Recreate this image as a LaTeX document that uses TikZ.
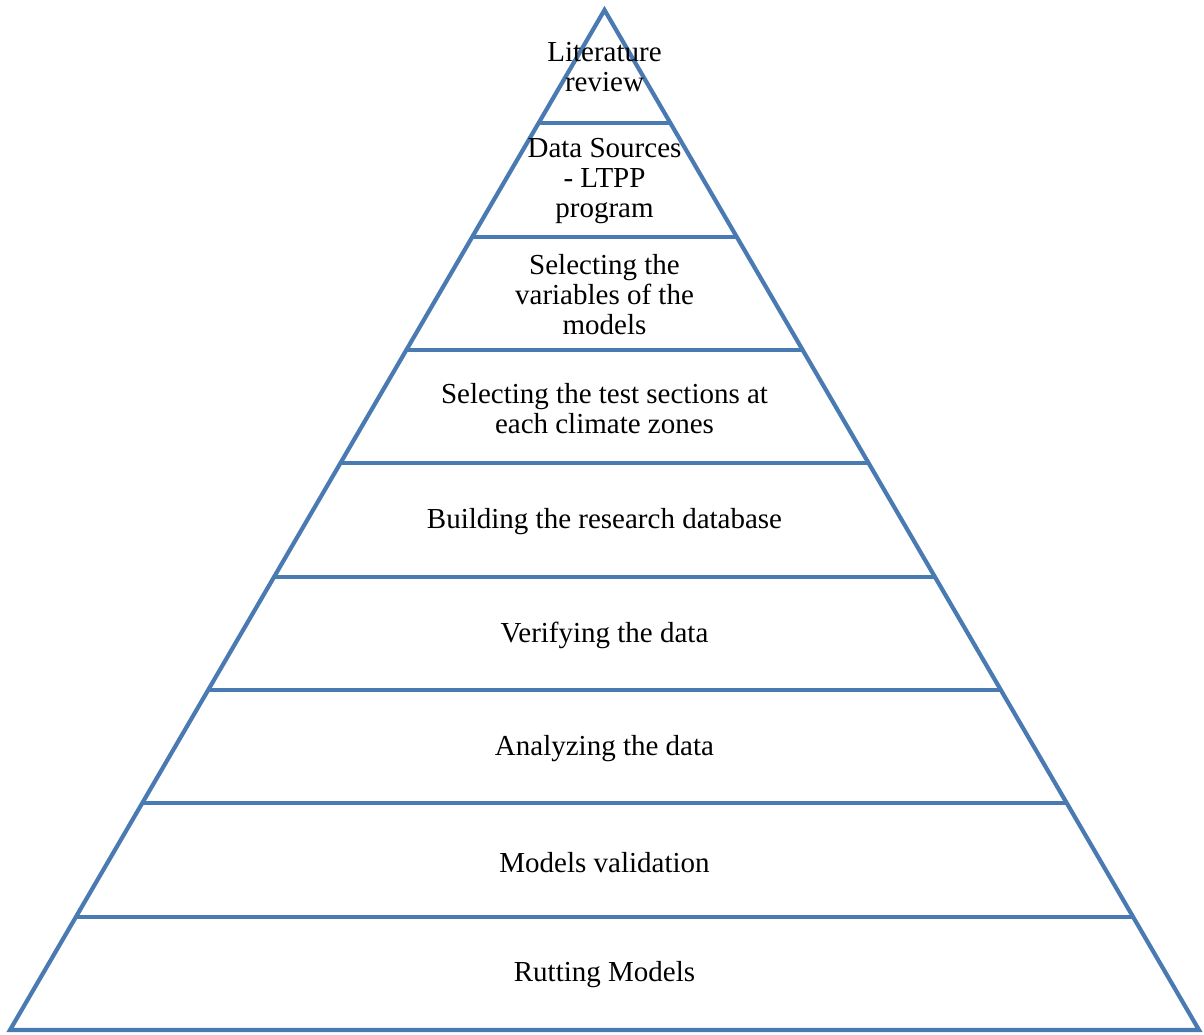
\documentclass[tikz,border=0pt]{standalone}
\usepackage{fontspec}
\setmainfont{Liberation Serif}
\usetikzlibrary{calc}
\definecolor{pyrblue}{RGB}{74,122,178}
\begin{document}
\begin{tikzpicture}[x=1pt,y=-1pt,
  tierline/.style={draw=pyrblue,line width=4.2pt,line join=miter},
  label/.style={align=center,text=black,font=\fontsize{29}{30}\selectfont,inner sep=0pt}]
\useasboundingbox (0,0) rectangle (1204,1034);
\coordinate (A) at (604.5,10);
\coordinate (BL) at (10,1030);
\coordinate (BR) at (1199,1030);
\foreach \i in {1,...,8}{
  \coordinate (L\i) at ($(A)!\i/9!(BL)$);
  \coordinate (R\i) at ($(A)!\i/9!(BR)$);
}
\draw[tierline] (A) -- (BL) -- (BR) -- cycle;
\foreach \i in {1,...,8}{
  \draw[tierline] (L\i) -- (R\i);
}
\node[label] (t1) at (604.5,67) {Literature\\review};
\node[label] (t2) at (604.5,181) {Data Sources\\- LTPP\\program};
\node[label] (t3) at (604.5,295) {Selecting the\\variables of the\\models};
\node[label] (t4) at (604.5,408.5) {Selecting the test sections at\\each climate zones};
\node[label] (t5) at (604.5,522) {Building the research database};
\node[label] (t6) at (604.5,635.5) {Verifying the data};
\node[label] (t7) at (604.5,749) {Analyzing the data};
\node[label] (t8) at (604.5,862.5) {Models validation};
\node[label] (t9) at (604.5,974.5) {Rutting Models};
\end{tikzpicture}
\end{document}
